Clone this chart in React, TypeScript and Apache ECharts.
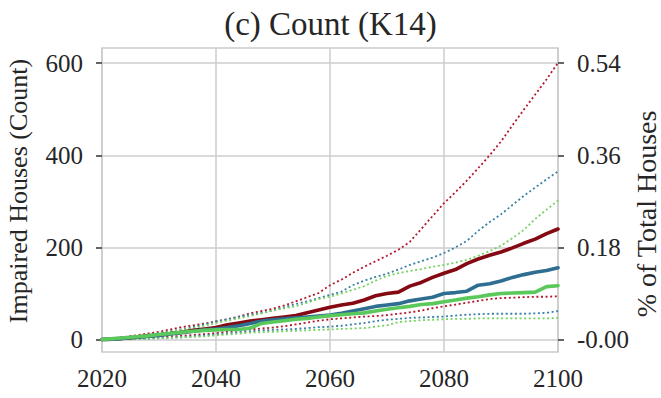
import React, { useEffect, useRef } from "react";
import * as echarts from "echarts";

const years = [
  2020, 2022, 2024, 2026, 2028, 2030, 2032, 2034, 2036, 2038, 2040, 2042, 2044, 2046,
  2048, 2050, 2052, 2054, 2056, 2058, 2060, 2062, 2064, 2066, 2068, 2070, 2072, 2074,
  2076, 2078, 2080, 2082, 2084, 2086, 2088, 2090, 2092, 2094, 2096, 2098, 2100,
];

const redUpper = [
  0, 3, 6, 9, 13, 17, 22, 27, 31, 35, 39, 44, 50, 57, 62, 67, 74, 83, 92, 101, 118, 130,
  145, 158, 170, 182, 195, 212, 240, 268, 296, 320, 345, 372, 400, 430, 465, 499, 532, 565, 601,
];
const redMedian = [
  0, 1, 3, 5, 8, 10, 13, 16, 20, 23, 26, 32, 36, 40, 43, 46, 49, 52, 58, 64, 70, 75, 79, 86,
  95, 100, 103, 116, 124, 135, 144, 152, 165, 175, 183, 190, 199, 209, 218, 230, 240,
];
const redLower = [
  0, 1, 2, 3, 4, 5, 7, 8, 10, 12, 14, 17, 20, 22, 24, 26, 29, 33, 37, 41, 44, 46, 48, 50,
  51, 53, 56, 59, 63, 68, 72, 76, 80, 84, 88, 90, 91, 92, 93, 93, 94,
];
const blueUpper = [
  0, 2, 4, 7, 10, 14, 18, 22, 27, 33, 40, 44, 49, 54, 58, 63, 70, 77, 83, 90, 97, 104, 118,
  128, 136, 143, 152, 162, 170, 178, 188, 200, 214, 236, 255, 272, 292, 312, 330, 348, 365,
];
const blueMedian = [
  0, 1, 3, 5, 7, 9, 12, 15, 18, 21, 23, 26, 30, 35, 40, 43, 45, 47, 49, 51, 53, 57, 62, 67,
  72, 75, 78, 84, 88, 92, 100, 102, 105, 118, 121, 127, 135, 141, 146, 150, 156,
];
const blueLower = [
  0, 0, 1, 2, 2, 3, 4, 5, 7, 9, 11, 13, 16, 18, 20, 21, 22, 23, 25, 27, 28, 30, 33, 36, 40,
  43, 45, 47, 48, 49, 50, 52, 54, 55, 56, 56, 56, 56, 57, 58, 62,
];
const greenUpper = [
  0, 2, 4, 7, 10, 13, 17, 21, 25, 30, 36, 41, 46, 51, 57, 63, 68, 72, 80, 88, 93, 100, 108,
  116, 128, 138, 144, 149, 153, 158, 162, 167, 173, 182, 192, 204, 220, 238, 262, 282, 302,
];
const greenMedian = [
  0, 2, 4, 6, 8, 11, 13, 16, 18, 20, 21, 22, 22, 25, 35, 38, 41, 44, 46, 49, 52, 54, 56, 58,
  62, 66, 69, 72, 76, 78, 82, 86, 90, 93, 97, 100, 101, 102, 103, 115, 117,
];
const greenLower = [
  0, 0, 1, 1, 2, 3, 4, 5, 6, 7, 9, 11, 13, 15, 16, 17, 18, 19, 20, 21, 22, 23, 24, 25, 28,
  31, 38, 40, 42, 43, 44, 45, 45, 46, 46, 46, 46, 46, 46, 46, 47,
];

const leftTicks = [0, 200, 400, 600];
const rightTicks = [0, 0.18, 0.36, 0.54];
const countToPct = 0.0009;

const FONT = "'Liberation Serif', 'DejaVu Serif', serif";
const TEXT = "#262626";
const GRID = "#cccccc";

const RED = "#850912";
const RED_DOT = "#b2182b";
const BLUE = "#2e6e91";
const BLUE_DOT = "#3a80a4";
const GREEN = "#5ac85a";
const GREEN_DOT = "#74d25e";

function pairs(vals: number[]) {
  return years.map((y, i) => [y, vals[i]]);
}

function dotted(name: string, vals: number[], color: string) {
  return {
    name,
    type: "line",
    data: pairs(vals),
    showSymbol: false,
    symbol: "none",
    clip: false,
    lineStyle: { color, width: 1.8, type: [2, 2.6], cap: "butt" },
    z: 2,
  };
}

function solid(name: string, vals: number[], color: string) {
  return {
    name,
    type: "line",
    data: pairs(vals),
    showSymbol: false,
    symbol: "none",
    clip: false,
    lineStyle: { color, width: 3.6, cap: "round", join: "round" },
    z: 3,
  };
}

export default function App() {
  const ref = useRef<HTMLDivElement>(null);
  useEffect(() => {
    if (!ref.current) return;
    const chart = echarts.init(ref.current, null, { renderer: "svg" });
    const yMin = -27;
    const yMax = 633;
    chart.setOption({
      animation: false,
      backgroundColor: "#ffffff",
      title: {
        text: "(c) Count (K14)",
        left: "center",
        top: 2,
        textStyle: { fontFamily: FONT, fontSize: 33, fontWeight: "normal", color: TEXT },
      },
      grid: {
        left: 102,
        right: 103,
        top: 48,
        bottom: 46,
        show: true,
        borderColor: GRID,
        borderWidth: 1.5,
        backgroundColor: "transparent",
      },
      xAxis: {
        type: "value",
        min: 2020,
        max: 2100,
        interval: 20,
        axisLine: { show: false },
        axisTick: { show: false },
        axisLabel: {
          formatter: (v: number) => String(v),
          fontFamily: FONT,
          fontSize: 25,
          color: TEXT,
          margin: 14,
        },
        splitLine: { show: true, lineStyle: { color: GRID, width: 1.5 } },
      },
      yAxis: [
        {
          type: "value",
          position: "left",
          min: yMin,
          max: yMax,
          axisLine: { show: false },
          axisTick: {
            show: true,
            length: 6,
            customValues: leftTicks,
            lineStyle: { color: "#333333", width: 1.5 },
          },
          axisLabel: {
            customValues: leftTicks,
            fontFamily: FONT,
            fontSize: 25,
            color: TEXT,
            margin: 19,
          },
          splitLine: { show: true, lineStyle: { color: GRID, width: 1.5 } },
        },
        {
          type: "value",
          position: "right",
          min: yMin * countToPct,
          max: yMax * countToPct,
          axisLine: { show: false },
          axisTick: {
            show: true,
            length: 6,
            customValues: rightTicks,
            lineStyle: { color: "#333333", width: 1.5 },
          },
          axisLabel: {
            customValues: rightTicks,
            formatter: (v: number) => (Math.abs(v) < 1e-9 ? "-0.00" : v.toFixed(2)),
            fontFamily: FONT,
            fontSize: 25,
            color: TEXT,
            margin: 19,
          },
          splitLine: { show: false },
        },
      ],
      graphic: [
        {
          type: "text",
          x: 18,
          y: 191,
          rotation: Math.PI / 2,
          style: {
            text: "Impaired Houses (Count)",
            font: `26px ${FONT}`,
            fill: TEXT,
            textAlign: "center",
            textVerticalAlign: "middle",
          },
        },
        {
          type: "text",
          x: 646,
          y: 214,
          rotation: Math.PI / 2,
          style: {
            text: "% of Total Houses",
            font: `28px ${FONT}`,
            fill: TEXT,
            textAlign: "center",
            textVerticalAlign: "middle",
          },
        },
      ],
      series: [
        dotted("Red upper", redUpper, RED_DOT),
        dotted("Red lower", redLower, RED_DOT),
        dotted("Blue upper", blueUpper, BLUE_DOT),
        dotted("Blue lower", blueLower, BLUE_DOT),
        dotted("Green upper", greenUpper, GREEN_DOT),
        dotted("Green lower", greenLower, GREEN_DOT),
        solid("Red median", redMedian, RED),
        solid("Blue median", blueMedian, BLUE),
        solid("Green median", greenMedian, GREEN),
      ],
    });
    return () => chart.dispose();
  }, []);
  return (
    <div
      ref={ref}
      style={{ position: "fixed", left: 0, top: 0, width: 661, height: 398 }}
    />
  );
}
